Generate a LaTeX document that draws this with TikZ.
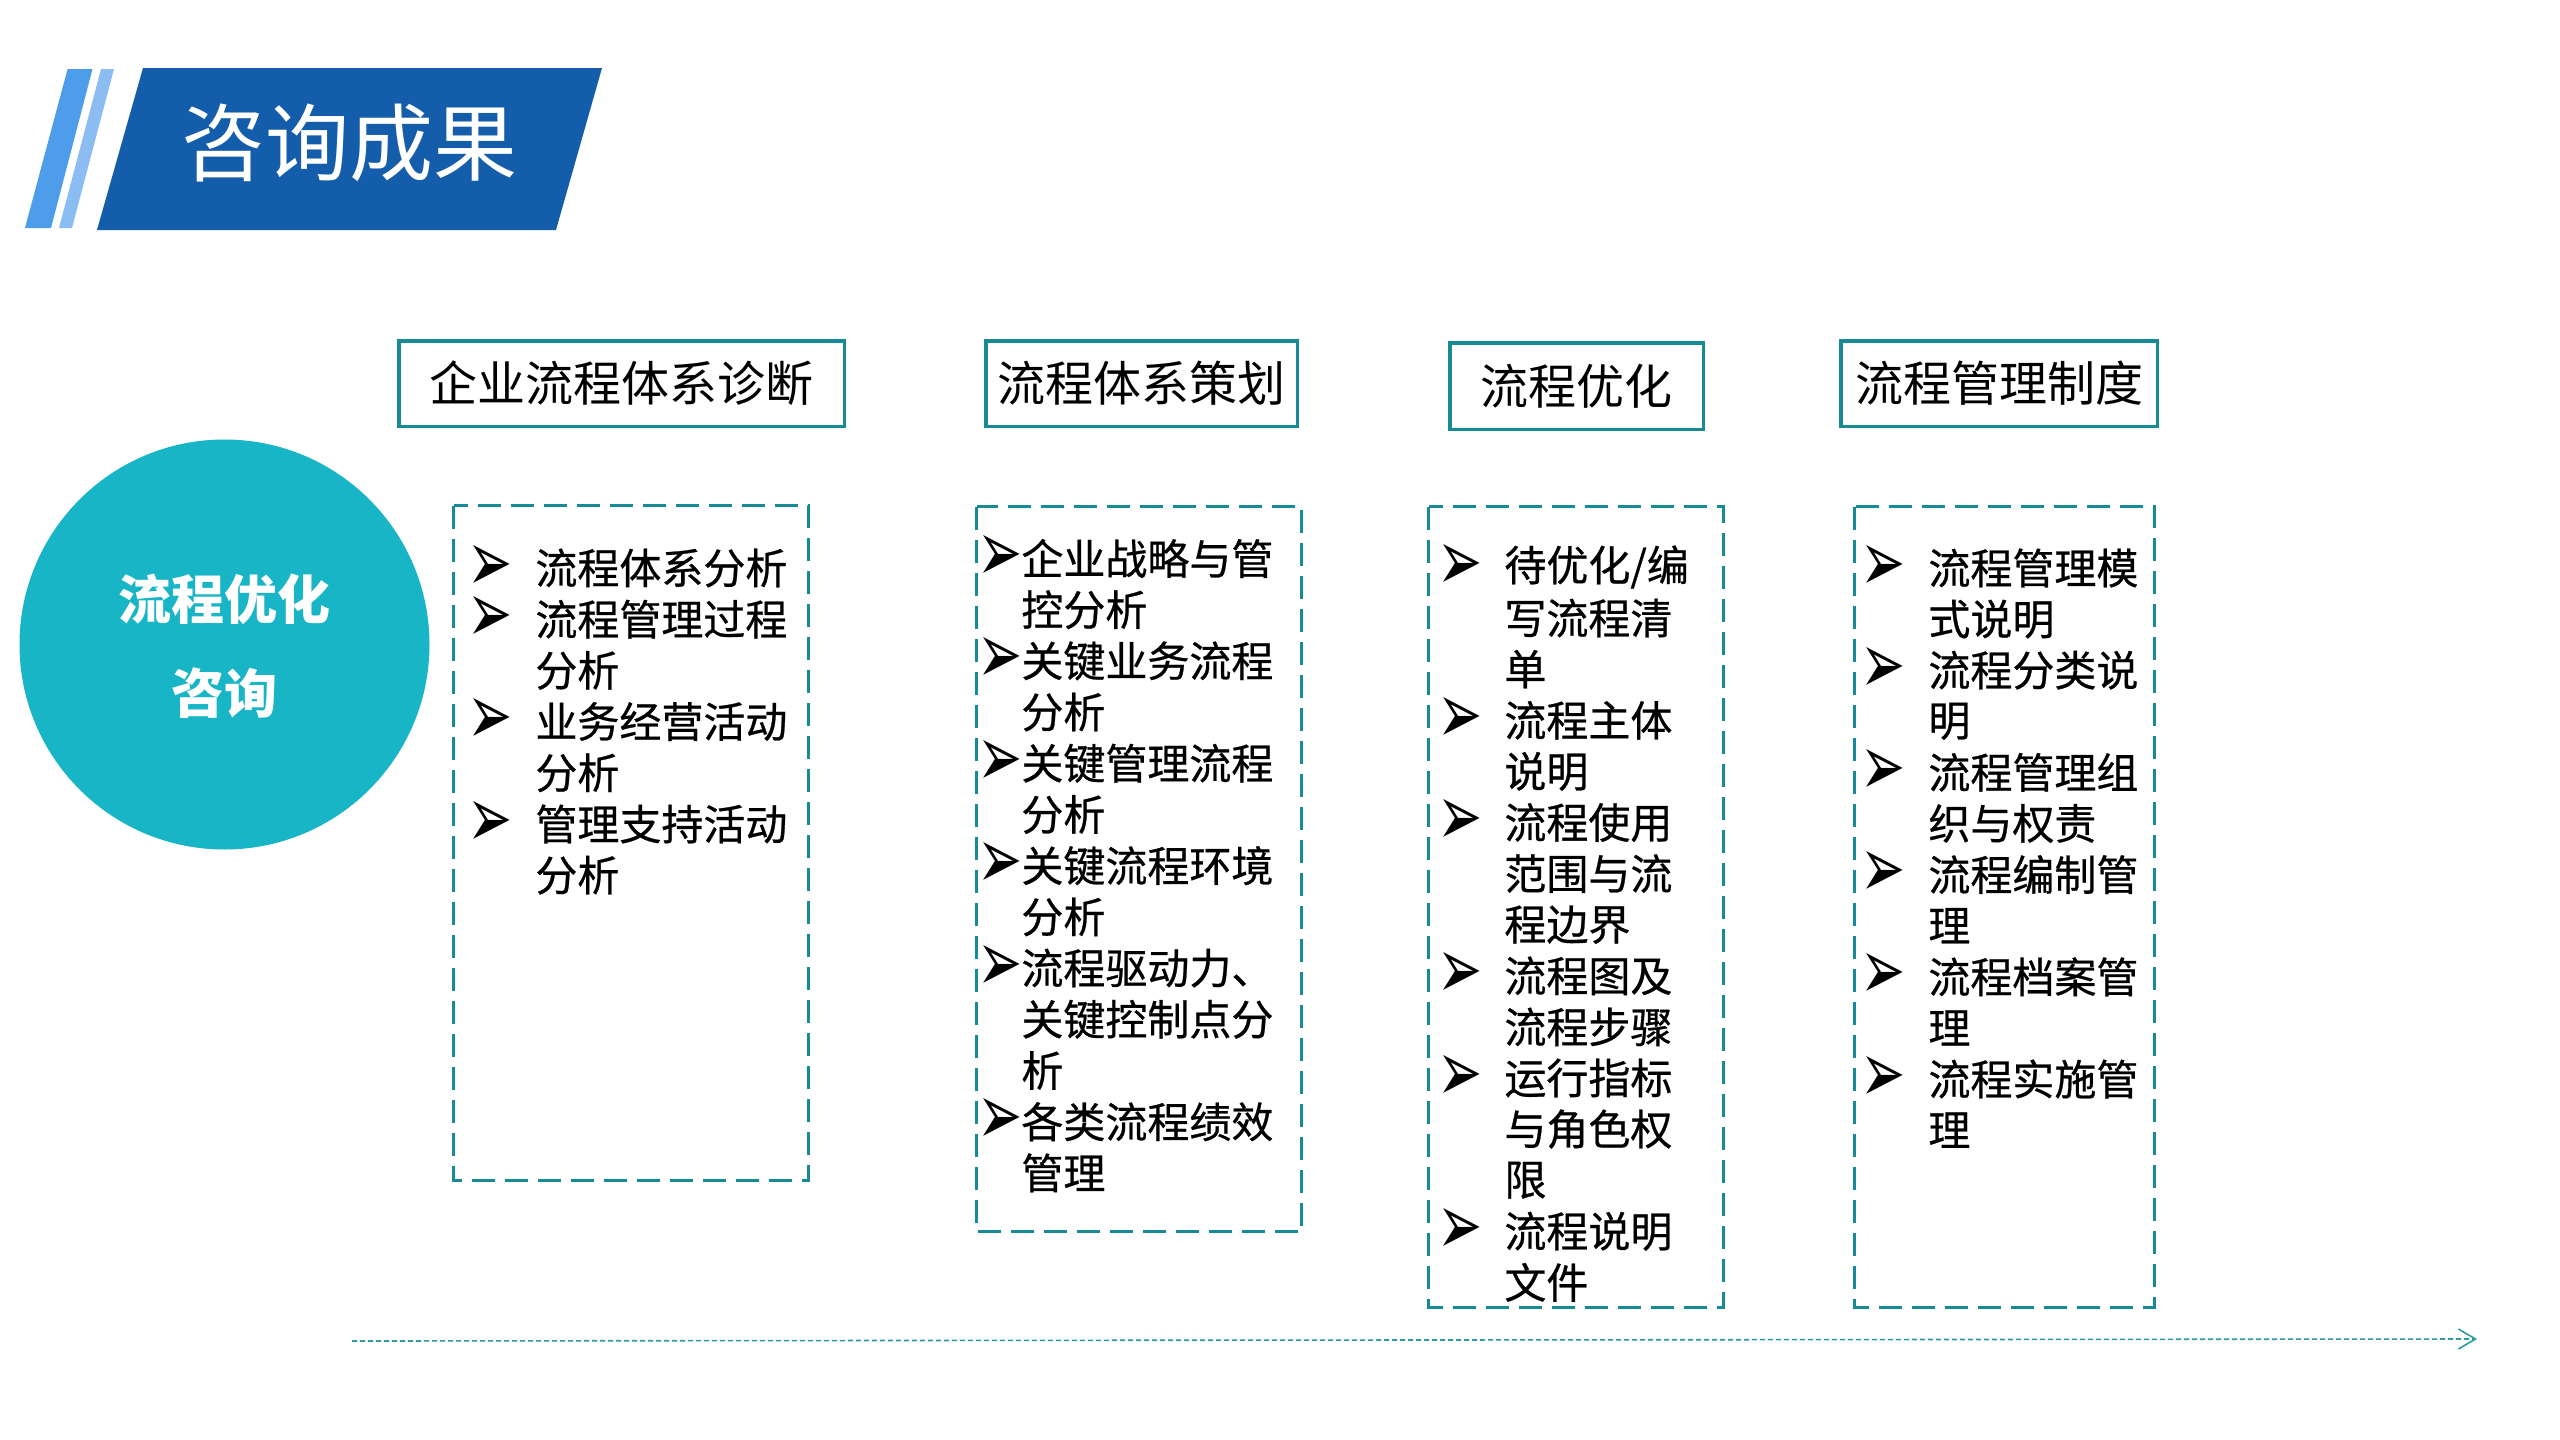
\documentclass[tikz,border=0pt]{standalone}
\usepackage{fontspec}
\newfontfamily\cjk{Noto Sans CJK SC}
\newfontfamily\cjklist[FakeBold=0.6]{Noto Sans CJK SC}
\newfontfamily\symfont{DejaVu Sans}
\usetikzlibrary{arrows.meta}
\definecolor{bannerblue}{HTML}{135DAB}
\definecolor{stripeA}{HTML}{4E9DEB}
\definecolor{stripeB}{HTML}{8BBDF3}
\definecolor{circcol}{HTML}{17B5C6}
\definecolor{tealline}{HTML}{178B95}
\definecolor{arrowcol}{HTML}{2C9BA3}
\tikzset{
  titletext/.style={inner sep=0pt, text=white, font=\cjk\fontsize{42}{50}\selectfont},
  circtext/.style={inner sep=0pt, text=white, font=\cjk\bfseries\fontsize{26.5}{30}\selectfont},
  headbox/.style={draw=tealline, line width=1.75pt, inner sep=0pt, font=\cjk\fontsize{24}{28}\selectfont},
  dashbox/.style={draw=tealline, line width=1.5pt, dash pattern=on 11.5pt off 5pt},
  listtxt/.style={anchor=west, inner sep=0pt, font=\cjklist\fontsize{21}{25}\selectfont},
  bul/.style={inner sep=0pt, font=\symfont\fontsize{27}{28}\selectfont},
  timeline/.style={draw=arrowcol, line width=0.8pt, dash pattern=on 2.5pt off 1.5pt,
    -{Straight Barb[length=8.5pt,width=10pt,line width=0.8pt]}}
}
\newcommand\mklist[6]{%
  \foreach \b/\t [count=\i] in {#6}{%
    \node[listtxt] (#1t\i) at (#3,{#4+(\i-1)*#5}) {\t};
    \if\b b\node[bul] (#1b\i) at (#2,{#4+(\i-1)*#5}) {\scalebox{1}[1.6]{➢}};\fi
  }}
\begin{document}
\begin{tikzpicture}[x=0.5pt,y=-0.5pt]
\useasboundingbox (0,0) rectangle (2560,1440);
\fill[white] (0,0) rectangle (2560,1440);
% header
\fill[stripeA] (67.6,69) -- (92.5,69) -- (51,228) -- (25,228) -- cycle;
\fill[stripeB] (101,69) -- (114,69) -- (72,228) -- (59,228) -- cycle;
\fill[bannerblue] (143,68) -- (602,68) -- (556,230) -- (97,230) -- cycle;
\node[titletext] (title) at (349,142.5) {咨询成果};
% circle
\node[circle, fill=circcol, minimum size=205pt, inner sep=0pt] (circ) at (224.5,644.5) {};
\node[circtext] (ct1) at (224,599) {流程优化};
\node[circtext] (ct2) at (224,693) {咨询};
% head boxes
\node[headbox, minimum width=222.75pt, minimum height=42.75pt] (h1) at (621.5,383.5) {企业流程体系诊断};
\node[headbox, minimum width=155.75pt, minimum height=42.75pt] (h2) at (1141.5,383.5) {流程体系策划};
\node[headbox, minimum width=126.75pt, minimum height=43.25pt] (h3) at (1576.5,386) {流程优化};
\node[headbox, minimum width=158.25pt, minimum height=42.75pt] (h4) at (1999,383.5) {流程管理制度};
% dashed boxes
\draw[dashbox] (453.5,505.5) rectangle (808.5,1180.5);
\draw[dashbox] (976.5,506.5) rectangle (1301.5,1231.5);
\draw[dashbox] (1428.5,506.5) rectangle (1723.5,1307.5);
\draw[dashbox] (1854.5,506.5) rectangle (2154.5,1307.5);
% lists
\mklist{ca}{490}{535}{568}{51.2}{b/流程体系分析, b/流程管理过程, n/分析, b/业务经营活动, n/分析, b/管理支持活动, n/分析}
\mklist{cb}{1000}{1021}{558.5}{51.2}{b/企业战略与管, n/控分析, b/关键业务流程, n/分析, b/关键管理流程, n/分析, b/关键流程环境, n/分析, b/流程驱动力、, n/关键控制点分, n/析, b/各类流程绩效, n/管理}
\mklist{cc}{1460}{1504}{567}{51.1}{b/{待优化/编}, n/写流程清, n/单, b/流程主体, n/说明, b/流程使用, n/范围与流, n/程边界, b/流程图及, n/流程步骤, b/运行指标, n/与角色权, n/限, b/流程说明, n/文件}
\mklist{cd}{1883}{1928}{568}{51.1}{b/流程管理模, n/式说明, b/流程分类说, n/明, b/流程管理组, n/织与权责, b/流程编制管, n/理, b/流程档案管, n/理, b/流程实施管, n/理}
% timeline
\coordinate (a0) at (352,1341);
\coordinate (a1) at (2477,1339);
\draw[timeline] (a0) -- (a1);
\end{tikzpicture}
\end{document}
